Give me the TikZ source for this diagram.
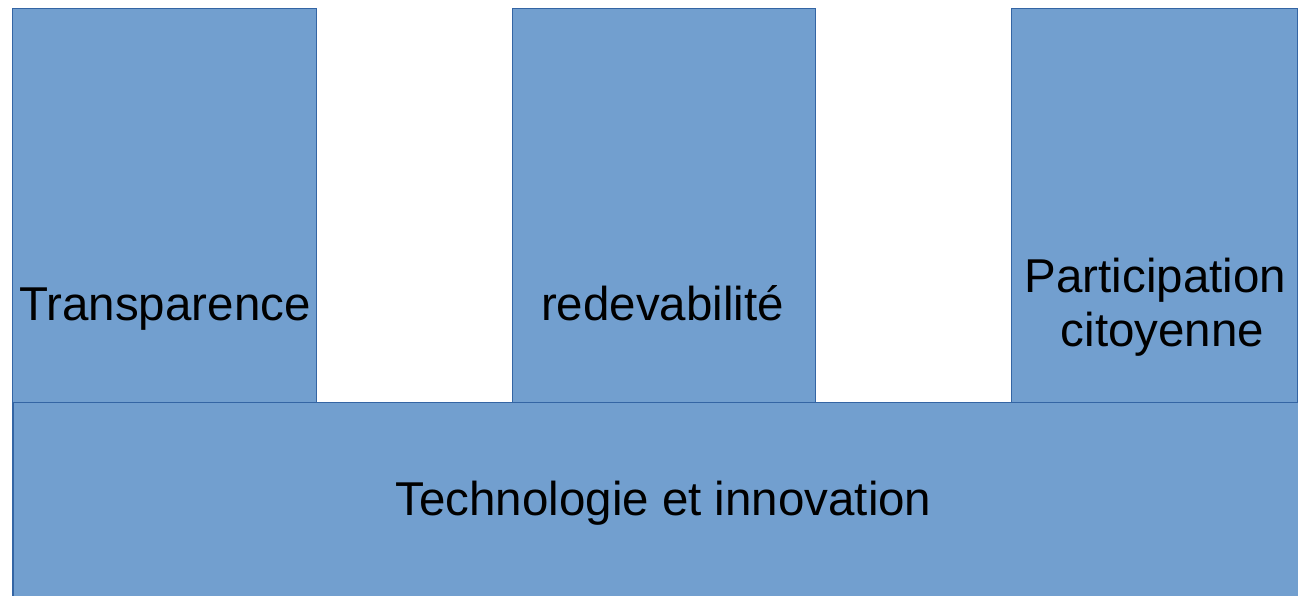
\documentclass[tikz,border=0pt]{standalone}
\usepackage{fontspec}
\setmainfont{Liberation Sans}
\definecolor{boxfill}{HTML}{729FCF}
\definecolor{boxline}{HTML}{3465A4}
\begin{document}
\begin{tikzpicture}[x=1pt,y=1pt,
  block/.style={draw=boxline,fill=boxfill,line width=1pt,rectangle,inner sep=0pt},
  lbl/.style={font=\fontsize{47.5}{54}\selectfont,align=center,text=black,inner sep=0pt,anchor=base}]
\useasboundingbox (0,0) rectangle (1298,596);
\node[block,minimum width=303.5pt,minimum height=594pt] (p1) at (164.25,290.5) {};
\node[block,minimum width=303pt,minimum height=594pt] (p2) at (663.5,290.5) {};
\node[block,minimum width=286.5pt,minimum height=594pt] (p3) at (1154.25,290.5) {};
\node[lbl] (t1) at (165,275) {Transparence};
\node[lbl] (t2) at (662.5,275) {redevabilité};
\node[lbl] (t3) at (1155.5,249) {Participation\\\hspace*{14pt}citoyenne};
\node[block,minimum width=1286pt,minimum height=198pt,anchor=north west] (base) at (12.5,194) {};
\node[lbl] (t4) at (663.5,80) {Technologie et innovation};
\end{tikzpicture}
\end{document}
